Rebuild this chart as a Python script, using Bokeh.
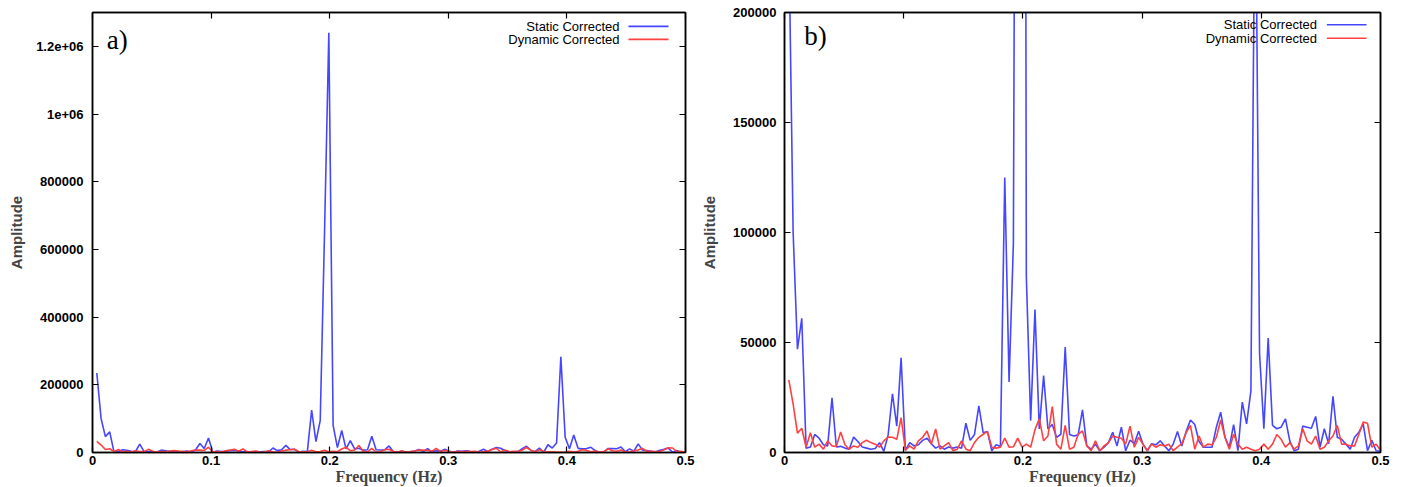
import numpy as np
from bokeh.plotting import figure
from bokeh.models import (FixedTicker, LinearAxis, Label, Range1d,
                          BoxAnnotation, ColumnDataSource)
from bokeh.layouts import row
from bokeh.embed import file_html
from bokeh.resources import INLINE

# ---------------- data ----------------
freq_step = 0.003623          # spectral resolution (Hz)
n_points = 138
frequency = freq_step * np.arange(1, n_points + 1)

static_corrected = [
    235000, 100000, 47000, 61000, 2000, 2500, 8200, 6500, 3500, 3000,
    24800, 2500, 2800, 2000, 1500, 7000, 5000, 2500, 2000, 1500,
    1800, 4500, 500, 8000, 26700, 12000, 43000, 1000, 4500, 3000,
    3500, 5500, 6500, 4000, 2000, 3000, 1500, 2500, 2000, 2500,
    2000, 13300, 5500, 8200, 21200, 9000, 9500, 800, 3500, 2700,
    125000, 32000, 95000, 650000, 1240000, 80000, 14500, 65000, 10700, 35000,
    10700, 12700, 6900, 8300, 47900, 8200, 7500, 8000, 19400, 3000,
    1500, 3800, 800, 2400, 4500, 9200, 3000, 11500, 800, 5600,
    4000, 9700, 3800, 800, 4000, 3500, 5300, 3000, 800, 3800,
    9500, 3000, 9500, 14800, 12700, 5000, 2400, 2400, 2400, 11500,
    18300, 6900, 2400, 12700, 800, 22900, 13000, 28000, 283000, 45000,
    10800, 52000, 12300, 10800, 11500, 15300, 5300, 800, 1500, 12000,
    11500, 11000, 16400, 2400, 10800, 4000, 25500, 6900, 6000, 3800,
    1500, 6900, 9200, 13000, 800, 5600, 800, 500,
]

dynamic_corrected = [
    33000, 22000, 8800, 11000, 2400, 9000, 2400, 3800, 1500, 5300,
    3000, 2700, 9300, 3500, 1500, 3000, 2400, 4500, 5600, 4500,
    3800, 2400, 5300, 7000, 6900, 6000, 15800, 1000, 3000, 1500,
    5300, 6900, 9800, 3800, 10700, 1500, 3000, 4500, 800, 1500,
    5300, 1500, 800, 4500, 6900, 8300, 9500, 2400, 2000, 2400,
    6500, 2400, 2600, 6500, 2400, 3800, 2400, 10400, 15300, 5300,
    7500, 20900, 3800, 1500, 12300, 1500, 2400, 8300, 9800, 3000,
    800, 5300, 800, 3000, 4500, 7500, 6900, 6500, 3800, 12000,
    2400, 6900, 3800, 800, 3800, 2400, 3500, 3000, 3800, 800,
    2400, 4000, 9000, 12300, 1500, 7500, 2400, 3800, 3500, 6900,
    14800, 6900, 1500, 8300, 3800, 1500, 2400, 1500, 800, 1500,
    3800, 1500, 3800, 8200, 6000, 2400, 4500, 1500, 3000, 10800,
    5300, 3800, 7500, 1500, 2400, 5300, 7500, 12300, 3800, 3800,
    3000, 3000, 8300, 13800, 13300, 2400, 3800, 1000,
]

x_ticks = [0, 0.1, 0.2, 0.3, 0.4, 0.5]
x_tick_labels = ["0", "0.1", "0.2", "0.3", "0.4", "0.5"]

a_yticks = [0, 200000, 400000, 600000, 800000, 1000000, 1200000]
a_ylabels = ["0", "200000", "400000", "600000", "800000", "1e+06", "1.2e+06"]

b_yticks = [0, 50000, 100000, 150000, 200000]
b_ylabels = ["0", "50000", "100000", "150000", "200000"]

series_names = ["Static Corrected", "Dynamic Corrected"]
series_colors = ["#4646ff", "#ff4040"]

SANS = "Liberation Sans"
SERIF = "Liberation Serif"


def style_axis(ax, ticks, labels=None, show_labels=True):
    ax.ticker = FixedTicker(ticks=ticks)
    if labels is not None:
        ax.major_label_overrides = {t: l for t, l in zip(ticks, labels)}
    ax.major_tick_in = 6
    ax.major_tick_out = 0
    ax.minor_tick_line_color = None
    ax.axis_line_color = "black"
    ax.axis_line_width = 1.5
    ax.major_tick_line_color = "black"
    ax.major_tick_line_width = 1.2
    ax.major_label_text_font = SANS
    ax.major_label_text_font_style = "bold"
    if show_labels:
        ax.major_label_text_font_size = "13px"
        ax.major_label_text_color = "black"
    else:
        ax.major_label_text_font_size = "0px"
        ax.major_label_text_color = None
        ax.major_label_standoff = 0


def make_panel(ymax, yticks, ylabels, tag, tag_x, tag_y, width,
               mbl, mbr, ytick_standoff, ylabel_standoff,
               text_x, text_y, key_x0, key_x1, key_half):
    p = figure(width=width, height=487, output_backend="svg",
               toolbar_location=None,
               x_range=Range1d(0, 0.5), y_range=Range1d(0, ymax),
               min_border_left=mbl, min_border_right=mbr,
               min_border_top=12, min_border_bottom=30)
    p.grid.visible = False
    p.outline_line_color = "black"
    p.outline_line_width = 1.5
    p.background_fill_color = "white"
    p.border_fill_color = "white"

    src = ColumnDataSource(dict(f=frequency, s=static_corrected,
                                d=dynamic_corrected))
    p.line("f", "s", source=src, line_color=series_colors[0], line_width=1.6)
    p.line("f", "d", source=src, line_color=series_colors[1], line_width=1.6)

    style_axis(p.xaxis[0], x_ticks, x_tick_labels)
    p.xaxis[0].major_label_standoff = 3
    p.xaxis[0].axis_label = "Frequency (Hz)"
    p.xaxis[0].axis_label_text_font = SERIF
    p.xaxis[0].axis_label_text_font_style = "bold"
    p.xaxis[0].axis_label_text_font_size = "16px"
    p.xaxis[0].axis_label_standoff = 0

    style_axis(p.yaxis[0], yticks, ylabels)
    p.yaxis[0].major_label_standoff = ytick_standoff
    p.yaxis[0].axis_label = "Amplitude"
    p.yaxis[0].axis_label_text_font = SANS
    p.yaxis[0].axis_label_text_font_style = "bold"
    p.yaxis[0].axis_label_text_font_size = "15px"
    p.yaxis[0].axis_label_standoff = ylabel_standoff

    top = LinearAxis()
    style_axis(top, x_ticks, show_labels=False)
    p.add_layout(top, "above")
    right = LinearAxis()
    style_axis(right, yticks, show_labels=False)
    p.add_layout(right, "right")

    # gnuplot-style key: text right-aligned, line sample to its right
    for name, color, ty in zip(series_names, series_colors, text_y):
        p.add_layout(Label(x=text_x, y=ty, text=name, text_font=SANS,
                           text_font_size="13px", text_align="right",
                           text_baseline="middle", text_color="black"))
        p.add_layout(BoxAnnotation(left=key_x0, right=key_x1,
                                   bottom=ty - key_half, top=ty + key_half,
                                   fill_color=color, fill_alpha=1.0,
                                   line_color=None))

    p.add_layout(Label(x=tag_x, y=tag_y, text=tag, text_font=SERIF,
                       text_font_size="27px", text_baseline="top",
                       text_color="black"))
    return p


p1 = make_panel(1300000, a_yticks, a_ylabels, "a)", 0.012, 1262000,
                width=698, mbl=92, mbr=13, ytick_standoff=9,
                ylabel_standoff=8,
                text_x=0.4444, text_y=[1259000, 1220500],
                key_x0=0.4519, key_x1=0.4857, key_half=2400)
p2 = make_panel(200000, b_yticks, b_ylabels, "b)", 0.0165, 196000,
                width=706, mbl=82, mbr=24, ytick_standoff=8,
                ylabel_standoff=12,
                text_x=0.4467, text_y=[194400, 188300],
                key_x0=0.455, key_x1=0.4883, key_half=360)

layout = row(p1, p2)
open("out.html", "w").write(file_html(layout, INLINE))
